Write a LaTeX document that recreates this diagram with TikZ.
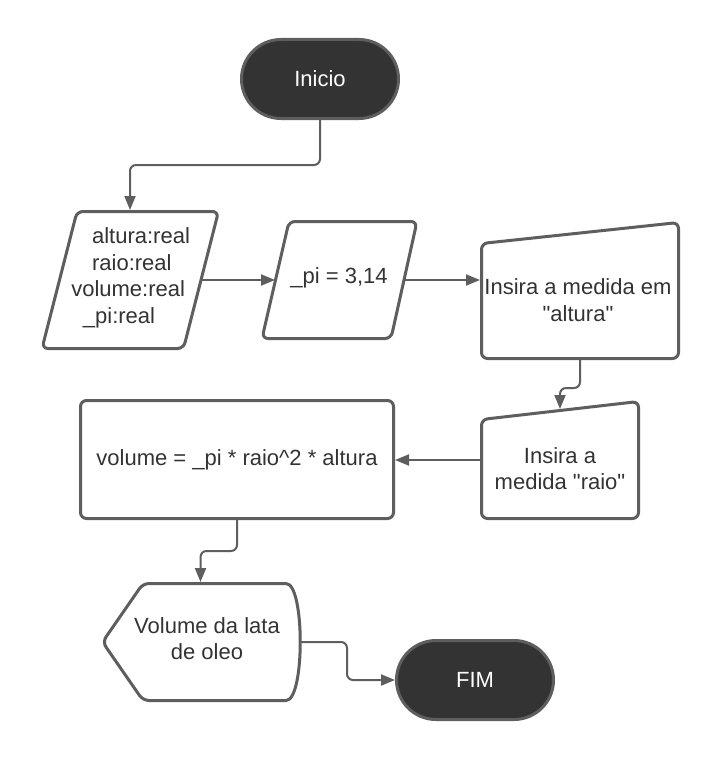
\documentclass[tikz,border=0pt]{standalone}
\usepackage{fontspec}
\setmainfont{Liberation Sans}[Ligatures=TeXOff]
\usetikzlibrary{arrows.meta,shapes.misc,calc}
\definecolor{linec}{HTML}{5E5E5E}
\definecolor{darkf}{HTML}{333333}
\definecolor{textc}{HTML}{333333}
\newcommand\dfont{\fontsize{22pt}{26.5pt}\selectfont}
\begin{document}
\begin{tikzpicture}[x=1pt,y=-1pt,
  txt/.style={font=\dfont, text=textc, align=center, inner sep=0pt},
  conn/.style={draw=linec, line width=2pt, -{Triangle[length=14pt,width=11pt]}},
  shp/.style={draw=linec, line width=3pt, fill=white, rounded corners=6pt},
  frame/.style={rectangle, draw=none, inner sep=0pt, outer sep=0pt},
  term/.style={rounded rectangle, draw=linec, line width=3pt, fill=darkf, text=white,
    font=\dfont, minimum width=157pt, minimum height=79pt, inner sep=0pt},
  procbox/.style={rectangle, draw=linec, line width=3pt, fill=white, rounded corners=6pt,
    text=textc, font=\dfont, inner sep=0pt}
]
\fill[white] (0,0) rectangle (720,760);
\useasboundingbox (0,0) rectangle (720,760);

% terminals
\node[term] (ini) at (320,79) {Inicio};
\node[term] (fim) at (475,680) {FIM};

% data (parallelograms)
\node[frame, minimum width=180pt, minimum height=140pt] (p1) at (130,280) {};
\draw[shp] (42,348.5) -- (77,211.5) -- (218.5,211.5) -- (183.5,348.5) -- cycle;
\node[txt] (p1t) at (130,278) {\hspace*{11pt}altura:real\hspace*{-11pt}\\
  \hspace*{3.7pt}raio:real\hspace*{-3.7pt}\\
  \hspace*{-3.7pt}volume:real\hspace*{3.7pt}\\
  \hspace*{-11pt}\_pi:real\hspace*{11pt}};

\node[frame, minimum width=159pt, minimum height=120pt] (p2) at (339.5,280) {};
\draw[shp] (262,338.5) -- (289,221.5) -- (417,221.5) -- (391,338.5) -- cycle;
\node[txt] (p2t) at (339,278) {\_pi = 3,14};

% manual inputs
\node[frame, minimum width=200pt, minimum height=139pt] (m1) at (580,290.5) {};
\draw[shp] (481.5,358.5) -- (481.5,243.5) -- (678.5,222.5) -- (678.5,358.5) -- cycle;
\node[txt] (m1t) at (578,300) {Insira a medida em\\"altura"};

\node[frame, minimum width=160pt, minimum height=120pt] (m2) at (560,460) {};
\draw[shp] (481.5,518.5) -- (481.5,419.5) -- (638.5,401.5) -- (638.5,518.5) -- cycle;
\node[txt] (m2t) at (560,468.5) {Insira a\\medida "raio"};

% process
\node[procbox, minimum width=313pt, minimum height=118pt] (rect) at (237,459.5)
  {volume = \_pi * raio\textasciicircum 2 * altura};

% display
\node[frame, minimum width=199pt, minimum height=120pt] (disp) at (200.5,642) {};
\draw[shp] (102.5,642) -- (143,583.5) -- (280,583.5)
  .. controls (305,583.5) and (305,700.5) .. (280,700.5) -- (143,700.5) -- cycle;
\node[txt] (dispt) at (207,638.5) {Volume da lata\\de oleo};

% connectors
\draw[conn, rounded corners=6pt] (ini.south) -- ++(0,45) -| (p1.north);
\draw[conn] ([xshift=-19pt]p1.east) -- ([xshift=15pt]p2.west);
\draw[conn] ([xshift=-14pt]p2.east) -- (p2.east -| m1.west);
\draw[conn, rounded corners=6pt] (m1.south) -- ++(0,28) -| ([yshift=-9pt]m2.north);
\draw[conn] (m2.west) -- (m2.west -| rect.east);
\draw[conn, rounded corners=6pt] (rect.south) -- ++(0,31) -| (disp.north);
\draw[conn, rounded corners=6pt] (disp.east) -- ++(47,0) |- (fim.west);
\end{tikzpicture}
\end{document}
